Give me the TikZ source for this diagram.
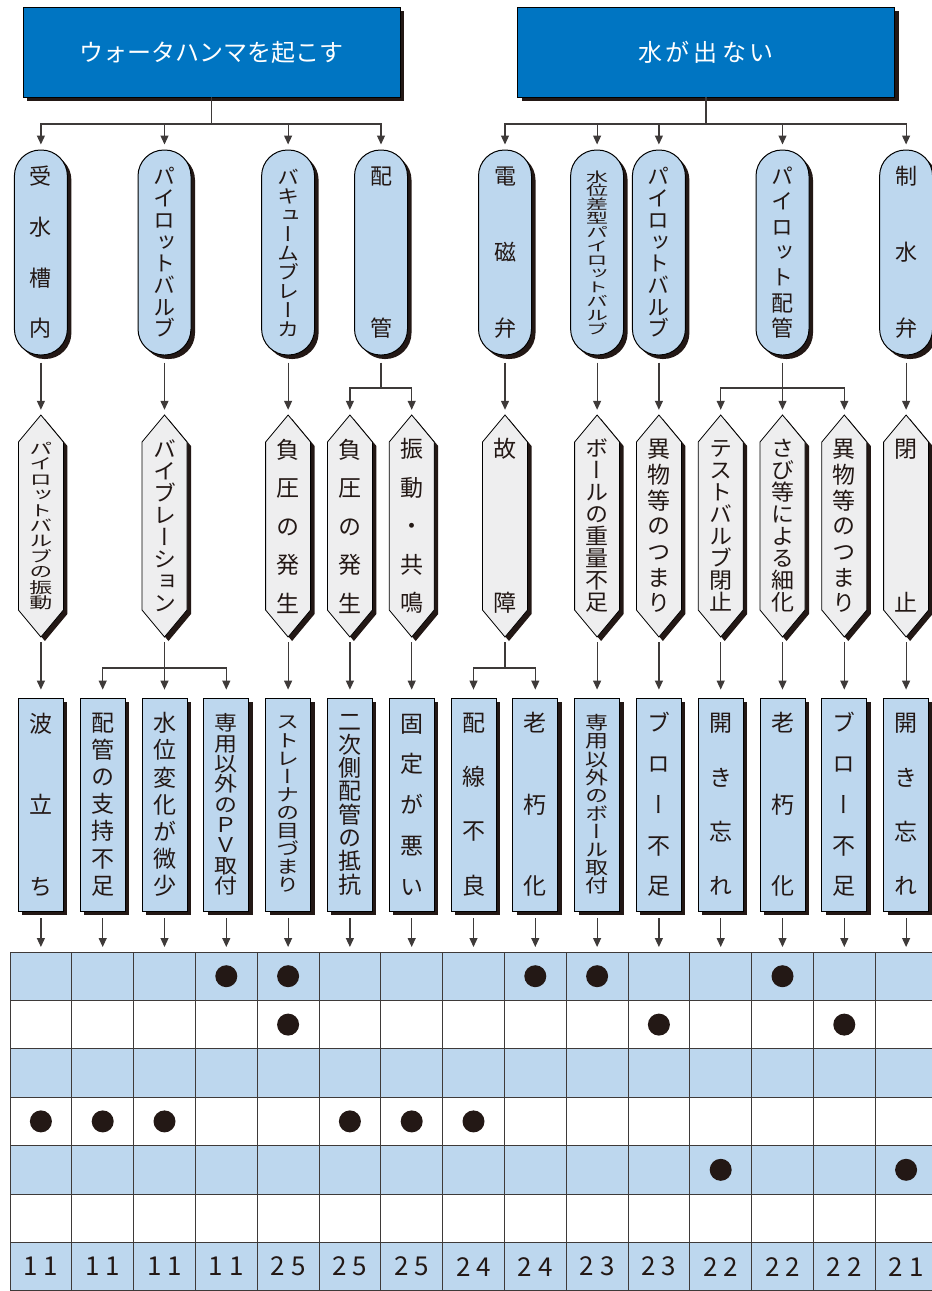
\documentclass[tikz,border=0pt]{standalone}
\usepackage{fontspec}
\usepackage{graphicx}
\usetikzlibrary{arrows.meta,shadows}
\newfontfamily\jp{Noto Sans CJK JP}
\newfontfamily\jpv[RawFeature=+vert]{Noto Sans CJK JP}
\definecolor{hblue}{HTML}{0075C2}
\definecolor{lblue}{HTML}{BDD7EE}
\definecolor{hgray}{HTML}{EEEEEF}
\definecolor{shc}{HTML}{231815}
\definecolor{tc}{HTML}{231815}
\definecolor{lc}{HTML}{3E3A39}

\ExplSyntaxOn
\dim_new:N \l__vt_sp_dim
\fp_new:N \l__vt_r_fp
\int_new:N \l__vt_n_int
\NewDocumentCommand \vtext { m m m }
  {
    \int_set:Nn \l__vt_n_int { \tl_count:n {#3} - 1 }
    \int_compare:nNnTF { \l__vt_n_int } > { 0 }
      { \dim_set:Nn \l__vt_sp_dim { #1 / \l__vt_n_int } }
      { \dim_set:Nn \l__vt_sp_dim { #2 } }
    \fp_set:Nn \l__vt_r_fp
      { min ( 1 , \dim_to_fp:n { \l__vt_sp_dim } / \dim_to_fp:n { #2 } ) }
    \vbox:n
      {
        \jpv
        \fontsize { #2 } { \dim_use:N \l__vt_sp_dim } \selectfont
        \skip_set:Nn \baselineskip { \l__vt_sp_dim }
        \dim_set:Nn \lineskiplimit { -\c_max_dim }
        \tl_map_inline:nn {#3}
          { \hbox_to_wd:nn { 30pt }
              { \hss \scalebox { 1 } [ \fp_use:N \l__vt_r_fp ] { ##1 } \hss } }
      }
  }
\ExplSyntaxOff

\newcommand\dnum[2]{#1\kern6pt #2}

\tikzset{
  ln/.style={draw=lc, line width=1.2pt},
  arr/.style={ln, -{Triangle[width=8pt,length=9pt]}, shorten >=5pt},
  arrl/.style={ln, -{Triangle[width=8pt,length=9pt]}, shorten >=8pt},
  sh/.style={drop shadow={shadow xshift=4pt,shadow yshift=-4pt,opacity=1,fill=shc}},
  head/.style={draw=black, line width=0.6pt, fill=hblue, minimum width=377pt,
    minimum height=90pt, inner sep=0pt, sh, text=white,
    font=\jp\fontsize{24pt}{28pt}\selectfont},
  pill/.style={draw=black, line width=1pt, fill=lblue, rounded corners=26pt,
    minimum width=53pt, minimum height=205pt, inner sep=0pt, sh, text=tc},
  hexn/.style={minimum width=45pt, minimum height=222pt, inner sep=0pt, text=tc},
  rectn/.style={draw=black, line width=0.8pt, fill=lblue, minimum width=45pt,
    minimum height=213pt, inner sep=0pt, sh, text=tc},
  numt/.style={text=tc, inner sep=0pt, font=\jp\fontsize{26pt}{30pt}\selectfont},
  grid/.style={draw=lc, line width=1pt},
}

\newcommand\pillnode[3]{\node[pill] (#1) at (#2,252.5) {\vtext{152pt}{22pt}{#3}};}
\newcommand\hexnode[3]{%
  \fill[shc,shift={(4pt,-4pt)}] (#2,415) -- ({#2+22.5},442) -- ({#2+22.5},610) -- (#2,637)
     -- ({#2-22.5},610) -- ({#2-22.5},442) -- cycle;
  \filldraw[fill=hgray,draw=black,line width=0.8pt] (#2,415) -- ({#2+22.5},442) -- ({#2+22.5},610)
     -- (#2,637) -- ({#2-22.5},610) -- ({#2-22.5},442) -- cycle;
  \node[hexn] (#1) at (#2,526) {\vtext{154pt}{23pt}{#3}};}
\newcommand\rectnode[3]{\node[rectn] (#1) at (#2,804.5) {\vtext{163pt}{23pt}{#3}};}

\begin{document}
\begin{tikzpicture}[x=1pt,y=-1pt]
\useasboundingbox (0,0) rectangle (932,1291);

% ---- table ----
\foreach \r in {0,2,4,6}
  \fill[lblue] (10,{952+48.4*\r}) rectangle (940,{952+48.4*(\r+1)});
\foreach \j in {0,...,7}
  \draw[grid] (10,{952+48.4*\j}) -- (940,{952+48.4*\j});
\foreach \i in {0,...,15}
  \draw[grid] ({10+61.8*\i},952) -- ({10+61.8*\i},1300);
\foreach \c/\r in {4/1,5/1,9/1,10/1,13/1,5/2,11/2,14/2,1/4,2/4,3/4,6/4,7/4,8/4,12/5,15/5}
  \fill[tc] ({10+61.8*(\c-0.5)},{952+48.4*(\r-0.5)}) circle (11pt);
\foreach \a/\b [count=\i] in {1/1,1/1,1/1,1/1,2/5,2/5,2/5,2/4,2/4,2/3,2/3,2/2,2/2,2/2,2/1}
  \node[numt] (n\i) at ({10+61.8*(\i-0.5)},1266.6) {\dnum{\a}{\b}};

% ---- headers ----
\node[head] (h1) at (211.5,52) {ウォータハンマを起こす};
\node[head] (h2) at (706,52) {水\kern4pt が\kern4pt 出\kern4pt な\kern4pt い};

% ---- causes (pills) ----
\pillnode{p1}{40.9}{受水槽内}
\pillnode{p2}{164.5}{パイロットバルブ}
\pillnode{p3}{288.1}{バキュームブレーカ}
\pillnode{p4}{381}{配管}
\pillnode{p5}{505}{電磁弁}
\pillnode{p6}{597.1}{水位差型パイロットバルブ}
\pillnode{p7}{658.9}{パイロットバルブ}
\pillnode{p8}{782.5}{パイロット配管}
\pillnode{p9}{906.1}{制水弁}

% ---- phenomena (hexagons) ----
\hexnode{x1}{40.9}{パイロットバルブの振動}
\hexnode{x2}{164.5}{バイブレーション}
\hexnode{x3}{288.1}{負圧の発生}
\hexnode{x4}{349.9}{負圧の発生}
\hexnode{x5}{411.7}{振動・共鳴}
\hexnode{x6}{505}{故障}
\hexnode{x7}{597.1}{ボールの重量不足}
\hexnode{x8}{658.9}{異物等のつまり}
\hexnode{x9}{720.7}{テストバルブ閉止}
\hexnode{x10}{782.5}{さび等による細化}
\hexnode{x11}{844.3}{異物等のつまり}
\hexnode{x12}{906.1}{閉止}

% ---- details (rectangles) ----
\rectnode{r1}{40.9}{波立ち}
\rectnode{r2}{102.7}{配管の支持不足}
\rectnode{r3}{164.5}{水位変化が微少}
\rectnode{r4}{226.3}{専用以外のＰＶ取付}
\rectnode{r5}{288.1}{ストレーナの目づまり}
\rectnode{r6}{349.9}{二次側配管の抵抗}
\rectnode{r7}{411.7}{固定が悪い}
\rectnode{r8}{473.5}{配線不良}
\rectnode{r9}{535.3}{老朽化}
\rectnode{r10}{597.1}{専用以外のボール取付}
\rectnode{r11}{658.9}{ブロー不足}
\rectnode{r12}{720.7}{開き忘れ}
\rectnode{r13}{782.5}{老朽化}
\rectnode{r14}{844.3}{ブロー不足}
\rectnode{r15}{906.1}{開き忘れ}

% ---- helper levels ----
\coordinate (y124) at (0,124);
\coordinate (y388) at (0,388);
\coordinate (y668) at (0,668);
\coordinate (y952) at (0,952);

% headers -> pills
\coordinate (b1) at (h1.south |- y124);
\draw[ln] (h1.south) -- (b1);
\foreach \c in {p1,p2,p3,p4} \draw[arr] (b1) -| (\c.north);
\coordinate (b2) at (h2.south |- y124);
\draw[ln] (h2.south) -- (b2);
\foreach \c in {p5,p6,p7,p8,p9} \draw[arr] (b2) -| (\c.north);

% pills -> hexagons
\foreach \a/\b in {p1/x1,p2/x2,p3/x3,p5/x6,p6/x7,p7/x8,p9/x12}
  \draw[arr] ([yshift=-7pt]\a.south) -- (\b.north);
\coordinate (b4) at (p4.south |- y388);
\draw[ln] ([yshift=-7pt]p4.south) -- (b4);
\foreach \c in {x4,x5} \draw[arr] (b4) -| (\c.north);
\coordinate (b8) at (p8.south |- y388);
\draw[ln] ([yshift=-7pt]p8.south) -- (b8);
\foreach \c in {x9,x10,x11} \draw[arr] (b8) -| (\c.north);

% hexagons -> rectangles
\foreach \a/\b in {x1/r1,x3/r5,x4/r6,x5/r7,x7/r10,x8/r11,x9/r12,x10/r13,x11/r14,x12/r15}
  \draw[arrl] ([yshift=-5pt]\a.south) -- (\b.north);
\coordinate (c2) at (x2.south |- y668);
\draw[ln] ([yshift=-5pt]x2.south) -- (c2);
\foreach \c in {r2,r3,r4} \draw[arrl] (c2) -| (\c.north);
\coordinate (c6) at (x6.south |- y668);
\draw[ln] ([yshift=-5pt]x6.south) -- (c6);
\foreach \c in {r8,r9} \draw[arrl] (c6) -| (\c.north);

% rectangles -> table
\foreach \i in {1,...,15} {
  \coordinate (t\i) at (r\i.south |- y952);
  \draw[arr] ([yshift=-7pt]r\i.south) -- (t\i);
}
\end{tikzpicture}
\end{document}
